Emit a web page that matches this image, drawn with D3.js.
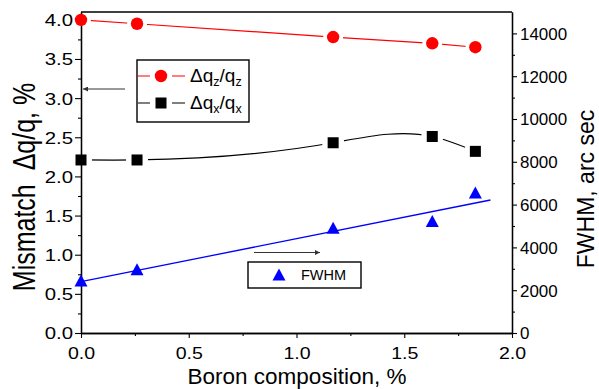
<!DOCTYPE html>
<html><head><meta charset="utf-8">
<script src="https://cdn.jsdelivr.net/npm/d3@7"></script>
<style>
body{margin:0;background:#fff}
svg text{font-family:"Liberation Sans",Arial,sans-serif;fill:#000}
</style></head><body>
<svg id="c" width="599" height="389"></svg>
<script>
// ---- data ----
const boron = [0, 0.26, 1.17, 1.63, 1.83];
const dqzqz = [4.0, 3.95, 3.78, 3.70, 3.65];
const dqxqx = [2.21, 2.21, 2.43, 2.51, 2.32];
const fwhm = [2450, 2980, 4920, 5230, 6560];
const fitX = [0, 1.90];
const fitY = [2400, 6215];
const xTicks = [0, 0.5, 1.0, 1.5, 2.0];
const leftTicks = [0, 0.5, 1.0, 1.5, 2.0, 2.5, 3.0, 3.5, 4.0];
const rightTicks = [0, 2000, 4000, 6000, 8000, 10000, 12000, 14000];

const L = 81, R = 512, T = 12, B = 333;
const svg = d3.select('#c');
const x = d3.scaleLinear().domain([0, 2]).range([L, R]);
const yL = d3.scaleLinear().domain([0, 4.1]).range([B, T]);
const yR = d3.scaleLinear().domain([0, 15000]).range([B, T]);

const red = '#ff0000', blk = '#000', blue = '#0000ff';

// custom d3 curve: natural cubic spline y(x) (as Origin's "Spline" connector)
function curveSplineX(context) {
  let pts = [];
  return {
    areaStart() {}, areaEnd() {},
    lineStart() { pts = []; },
    point(px, py) { pts.push([+px, +py]); },
    lineEnd() {
      const n = pts.length;
      if (n < 3) { pts.forEach((p, i) => i ? context.lineTo(p[0], p[1]) : context.moveTo(p[0], p[1])); return; }
      const h = [], s = [];
      for (let i = 0; i < n - 1; i++) { h.push(pts[i + 1][0] - pts[i][0]); s.push((pts[i + 1][1] - pts[i][1]) / h[i]); }
      // tridiagonal solve for second derivatives M (natural ends)
      const M = new Array(n).fill(0);
      const a = [], b = [], c = [], r = [];
      for (let i = 1; i < n - 1; i++) { a.push(h[i - 1]); b.push(2 * (h[i - 1] + h[i])); c.push(h[i]); r.push(6 * (s[i] - s[i - 1])); }
      const m = b.length;
      for (let i = 1; i < m; i++) { const w = a[i] / b[i - 1]; b[i] -= w * c[i - 1]; r[i] -= w * r[i - 1]; }
      const sol = new Array(m);
      sol[m - 1] = r[m - 1] / b[m - 1];
      for (let i = m - 2; i >= 0; i--) sol[i] = (r[i] - c[i] * sol[i + 1]) / b[i];
      for (let i = 0; i < m; i++) M[i + 1] = sol[i];
      const d = [];
      for (let i = 0; i < n - 1; i++) d.push(s[i] - h[i] * (2 * M[i] + M[i + 1]) / 6);
      d.push(s[n - 2] + h[n - 2] * (M[n - 2] + 2 * M[n - 1]) / 6);
      context.moveTo(pts[0][0], pts[0][1]);
      for (let i = 0; i < n - 1; i++) {
        const k = h[i] / 3;
        context.bezierCurveTo(pts[i][0] + k, pts[i][1] + d[i] * k, pts[i + 1][0] - k, pts[i + 1][1] - d[i + 1] * k, pts[i + 1][0], pts[i + 1][1]);
      }
    }
  };
}

// lines
const ptsZ = boron.map((b, i) => [x(b), yL(dqzqz[i])]);
const ptsX = boron.map((b, i) => [x(b), yL(dqxqx[i])]);
const ptsF = boron.map((b, i) => [x(b), yR(fwhm[i])]);
const ptsFit = fitX.map((b, i) => [x(b), yR(fitY[i])]);

svg.append('path').attr('d', d3.line()(ptsZ)).attr('fill', 'none').attr('stroke', red).attr('stroke-width', 1.2);
svg.append('path').attr('d', d3.line().curve(curveSplineX)(ptsX)).attr('fill', 'none').attr('stroke', blk).attr('stroke-width', 1.2);

// halos (gaps around markers)
svg.selectAll('.hz').data(ptsZ).join('circle').attr('cx', d => d[0]).attr('cy', d => d[1]).attr('r', 10).attr('fill', '#fff');
svg.selectAll('.hx').data(ptsX).join('circle').attr('cx', d => d[0]).attr('cy', d => d[1]).attr('r', 11).attr('fill', '#fff');

svg.append('path').attr('d', d3.line()(ptsFit)).attr('fill', 'none').attr('stroke', blue).attr('stroke-width', 1.3);

// axes
const axL = svg.append('g').attr('transform', `translate(${L},0)`)
  .call(d3.axisLeft(yL).tickValues(leftTicks).tickFormat(d3.format('.1f')).tickSize(6).tickSizeOuter(0));
const axLm = svg.append('g').attr('transform', `translate(${L},0)`)
  .call(d3.axisLeft(yL).tickValues(d3.range(0.25, 4.1, 0.5)).tickFormat('').tickSize(3).tickSizeOuter(0));
const axR = svg.append('g').attr('transform', `translate(${R},0)`)
  .call(d3.axisRight(yR).tickValues(rightTicks).tickFormat(d3.format('d')).tickSize(5).tickSizeOuter(0));
const axRm = svg.append('g').attr('transform', `translate(${R},0)`)
  .call(d3.axisRight(yR).tickValues(d3.range(1000, 15000, 2000)).tickFormat('').tickSize(3).tickSizeOuter(0));
const axB = svg.append('g').attr('transform', `translate(0,${B})`)
  .call(d3.axisBottom(x).tickValues(xTicks).tickFormat(d3.format('.1f')).tickSize(5).tickSizeOuter(0));
const axBm = svg.append('g').attr('transform', `translate(0,${B})`)
  .call(d3.axisBottom(x).tickValues([0.25, 0.75, 1.25, 1.75]).tickFormat('').tickSize(3).tickSizeOuter(0));

[axL, axLm, axR, axRm, axB, axBm].forEach(g => {
  g.selectAll('.domain').attr('stroke', '#000').attr('stroke-width', 1.3);
  g.selectAll('line').attr('stroke', '#000').attr('stroke-width', 1.1);
});
axL.selectAll('text').attr('x', 0).attr('dy', null).attr('dominant-baseline', 'central')
  .attr('transform', 'translate(-8,0) scale(1.2,1)').style('font-size', '17px').attr('text-anchor', 'end');
axR.selectAll('text').attr('x', 0).attr('dy', null).attr('dominant-baseline', 'central')
  .attr('transform', 'translate(8,0) scale(1.06,1)').style('font-size', '16px').attr('text-anchor', 'start');
axB.selectAll('text').attr('y', 0).attr('dy', null).attr('dominant-baseline', 'central')
  .attr('transform', 'translate(0,20) scale(1.15,1)').style('font-size', '17px');

// top frame
svg.append('line').attr('x1', L).attr('x2', R).attr('y1', T).attr('y2', T).attr('stroke', '#000').attr('stroke-width', 1.3);

// markers
svg.selectAll('.mz').data(ptsZ).join('circle').attr('cx', d => d[0]).attr('cy', d => d[1]).attr('r', 6.2).attr('fill', red);
svg.selectAll('.mx').data(ptsX).join('rect').attr('x', d => d[0] - 5.5).attr('y', d => d[1] - 5.5).attr('width', 11).attr('height', 11).attr('fill', blk);
const tri = (cx, cy, s, h) => `M${cx},${cy - h / 2}L${cx + s / 2},${cy + h / 2}L${cx - s / 2},${cy + h / 2}Z`;
svg.selectAll('.mf').data(ptsF).join('path').attr('d', d => tri(d[0], d[1], 13, 12)).attr('fill', blue);

// legend 1
svg.append('rect').attr('x', 137).attr('y', 60).attr('width', 112).attr('height', 62).attr('fill', '#fff').attr('stroke', '#000').attr('stroke-width', 1.4);
const leg = [{c: red, y: 76, s: 'z', m: 'c'}, {c: blk, y: 103, s: 'x', m: 's'}];
leg.forEach(e => {
  svg.append('line').attr('x1', 138).attr('x2', 185).attr('y1', e.y).attr('y2', e.y).attr('stroke', e.c).attr('stroke-width', 1.2);
  svg.append('rect').attr('x', 150).attr('y', e.y - 6).attr('width', 22).attr('height', 12).attr('fill', '#fff');
  if (e.m === 'c') svg.append('circle').attr('cx', 161).attr('cy', e.y).attr('r', 6.2).attr('fill', e.c);
  else svg.append('rect').attr('x', 155.5).attr('y', e.y - 5.5).attr('width', 11).attr('height', 11).attr('fill', e.c);
  const t = svg.append('text').attr('x', 190).attr('y', e.y + 6).style('font-size', '19px');
  t.append('tspan').text('Δq');
  t.append('tspan').attr('dy', 4).style('font-size', '12.5px').text(e.s);
  t.append('tspan').attr('dy', -4).text('/q');
  t.append('tspan').attr('dy', 4).style('font-size', '12.5px').text(e.s);
});

// legend 2
svg.append('rect').attr('x', 248).attr('y', 262).attr('width', 113).attr('height', 26).attr('fill', '#fff').attr('stroke', '#000').attr('stroke-width', 1.4);
svg.append('path').attr('d', tri(279, 274.5, 13, 12)).attr('fill', blue);
svg.append('text').attr('x', 301).attr('y', 280).style('font-size', '14.5px').text('FWHM');

// arrows
const defs = svg.append('defs');
defs.append('marker').attr('id', 'ah').attr('viewBox', '0 0 10 10').attr('refX', 10).attr('refY', 5)
  .attr('markerWidth', 7).attr('markerHeight', 5).attr('orient', 'auto')
  .append('path').attr('d', 'M0,0L10,5L0,10Z').attr('fill', '#333');
svg.append('line').attr('x1', 125).attr('y1', 89).attr('x2', 83).attr('y2', 89).attr('stroke', '#333').attr('stroke-width', 1).attr('marker-end', 'url(#ah)');
svg.append('line').attr('x1', 254).attr('y1', 252.5).attr('x2', 320).attr('y2', 252.5).attr('stroke', '#333').attr('stroke-width', 1).attr('marker-end', 'url(#ah)');

// axis titles
svg.append('text').attr('x', 297).attr('y', 384).attr('text-anchor', 'middle').style('font-size', '22.5px').text('Boron composition, %');
svg.append('text').attr('transform', 'translate(35,187) rotate(-90) scale(1,1.22)').attr('text-anchor', 'middle')
  .style('font-size', '25px').style('white-space', 'pre').text('Mismatch  Δq/q, %');
svg.append('text').attr('transform', 'translate(594,189) rotate(-90)').attr('text-anchor', 'middle')
  .style('font-size', '23px').text('FWHM, arc sec');
</script>
</body></html>
